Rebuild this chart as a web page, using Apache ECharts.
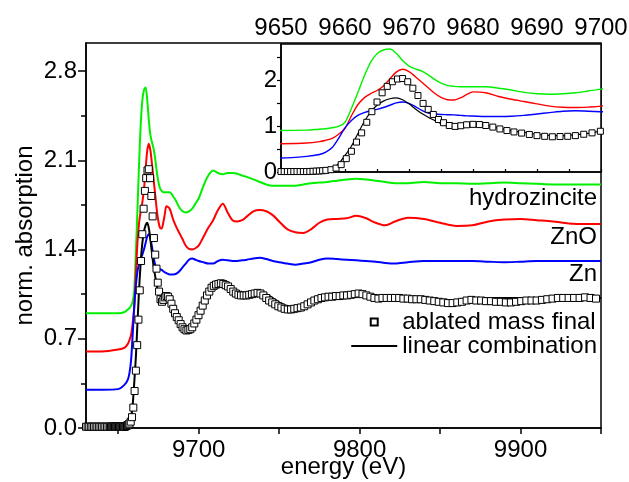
<!DOCTYPE html>
<html>
<head>
<meta charset="utf-8">
<script src="https://cdn.jsdelivr.net/npm/echarts@6/dist/echarts.min.js"></script>
<style>html,body{margin:0;padding:0;background:#fff}#chart{width:629px;height:482px}</style>
</head>
<body>
<div id="chart"></div>
<script>
// ---------- data ----------
const energy = [9630,9640,9650,9654,9656,
  9657,9658,9659,9660,9661,9662,9663,9664,9665,9666,9667,9668,9669,9670,9671,9672,9673,9674,9675,9676,9677,9678,9679,9680,
  9682,9684,9686,9688,9690,9692,9694,9696,9698,9700,
  9703,9706,9709,9712,9715,9718,9721,9724,9727,9730,
  9734,9738,9742,9746,9750,
  9755,9760,9765,9770,9775,9780,
  9786,9792,9798,9804,9810,9816,9822,
  9830,
  9840,9850,9860,9870,9880,9890,9900,9910,9920,9930,9940,9950];

const hydrozincite = [0.90,0.90,0.90,0.91,0.93,
  0.94,0.96,0.99,1.08,1.38,1.72,2.08,2.38,2.57,2.65,2.67,2.58,2.42,2.30,2.24,2.19,2.11,2.01,1.93,1.88,1.86,1.85,1.85,1.85,
  1.85,1.82,1.78,1.73,1.70,1.69,1.70,1.72,1.76,1.80,
  1.90,1.98,2.02,2.00,1.99,2.00,2.00,1.995,1.98,1.97,
  1.95,1.93,1.91,1.90,1.90,
  1.90,1.90,1.91,1.92,1.925,1.93,
  1.94,1.95,1.955,1.95,1.94,1.93,1.92,
  1.92,
  1.93,1.92,1.92,1.915,1.92,1.925,1.92,1.915,1.91,1.91,1.91,1.91];

const znO = [0.60,0.60,0.615,0.63,0.66,
  0.69,0.73,0.82,0.95,1.22,1.46,1.61,1.70,1.77,1.87,2.02,2.17,2.23,2.18,2.07,1.95,1.83,1.71,1.62,1.57,1.565,1.61,1.68,1.74,
  1.72,1.64,1.58,1.53,1.48,1.43,1.405,1.40,1.41,1.43,
  1.50,1.57,1.63,1.71,1.76,1.69,1.63,1.62,1.63,1.66,
  1.70,1.71,1.70,1.67,1.62,
  1.56,1.535,1.53,1.56,1.61,1.635,
  1.64,1.645,1.665,1.645,1.61,1.59,1.62,
  1.65,
  1.64,1.61,1.585,1.59,1.62,1.635,1.64,1.63,1.62,1.605,1.60,1.60];

const zn = [0.30,0.30,0.305,0.34,0.38,
  0.43,0.53,0.73,0.96,1.12,1.23,1.29,1.33,1.36,1.40,1.45,1.50,1.52,1.49,1.42,1.34,1.28,1.26,1.25,1.245,1.24,1.23,1.22,1.215,
  1.205,1.205,1.21,1.23,1.26,1.29,1.32,1.33,1.32,1.31,
  1.30,1.29,1.29,1.31,1.32,1.315,1.31,1.31,1.315,1.32,
  1.33,1.335,1.325,1.31,1.30,
  1.29,1.28,1.29,1.30,1.32,1.33,
  1.325,1.32,1.315,1.31,1.305,1.295,1.29,
  1.30,
  1.31,1.31,1.31,1.31,1.305,1.30,1.305,1.31,1.31,1.31,1.31,1.31];

const linearCombination = [0.01,0.01,0.01,0.02,0.03,
  0.05,0.08,0.18,0.36,0.56,0.83,1.09,1.30,1.45,1.54,1.59,1.61,1.57,1.48,1.37,1.27,1.19,1.12,1.05,0.995,0.975,0.995,1.02,1.035,
  1.015,0.955,0.90,0.86,0.82,0.795,0.79,0.81,0.84,0.89,
  0.97,1.05,1.10,1.13,1.12,1.09,1.065,1.055,1.05,1.05,
  1.06,1.07,1.05,1.02,0.985,
  0.955,0.95,0.955,0.98,1.01,1.03,
  1.03,1.035,1.05,1.045,1.03,1.02,1.025,
  1.03,
  1.02,1.01,1.00,1.01,1.02,1.02,1.02,1.015,1.01,1.015,1.02,1.02];

const ablatedEnergy = [9630,9631,9632,9633,9634,9635,9636,9637,9638,9639,9640,9641,9642,9643,9644,
  9645,9645.5,9646,9646.5,9647,9647.5,9648,9648.5,9649,9649.5,9650,9650.5,9651,9651.5,9652,9652.5,9653,9653.5,9654,9654.5,9655,9655.5,9656,9656.5,9657,
  9657.8,9658.6,9659.4,9660.2,9661.0,9661.8,9662.6,9663.4,9664.2,9665.0,9665.8,9666.6,9667.4,9668.2,9669.0,9669.8,9670.6,9671.4,9672.2,9673.0,9673.8,9674.6,9675.4,
  9676.3,9677.2,9678.1,9679.0,9680.0,9681.0,9682.0,9683.1,9684.2,9685.3,9686.4,9687.6,9688.8,9690.0,9691.2,9692.4,9693.6,9694.8,9696.0,9697.3,9698.6,9699.9,
  9701.2,9702.5,9703.8,9705.2,9706.6,9708.0,9709.4,9710.8,9712.3,9713.8,9715.3,9716.8,9718.3,9719.9,9721.5,9723.1,9724.7,9726.3,9728.0,9729.7,
  9731.4,9733.1,9734.8,9736.6,9738.4,9740.2,9742.0,9743.8,9745.7,9747.6,9749.5,9751.4,9753.4,9755.4,9757.4,9759.4,9761.4,9763.5,9765.6,9767.7,
  9769.8,9771.9,9774.1,9776.3,9778.5,9780.7,9783.0,9785.3,9787.6,9789.9,9792.2,9794.6,9797.0,9799.4,9801.8,9804.2,9806.7,9809.2,9811.7,9814.2,
  9816.8,9819.4,9822.0,9824.6,9827.2,9829.9,9832.6,9835.3,9838.0,9840.8,9843.6,9846.4,9849.2,9852.0,9854.9,9857.8,9860.7,9863.6,9866.5,9869.5,
  9872.5,9875.5,9878.5,9881.6,9884.7,9887.8,9890.9,9894.0,9897.2,9900.4,9903.6,9906.8,9910.0,9913.3,9916.6,9919.9,9923.2,9926.5,9929.9,9933.3,
  9936.7,9940.1,9943.5,9946.9,9950.3];

const ablatedValue = [0.01,0.01,0.01,0.01,0.01,0.01,0.01,0.01,0.01,0.01,0.01,0.01,0.01,0.01,0.01,
  0.01,0.01,0.01,0.01,0.01,0.01,0.01,0.01,0.01,0.01,0.01,0.01,0.01,0.01,0.01,0.01,0.01,0.01,0.01,0.012,0.015,0.02,0.022,0.028,0.035,
  0.05,0.085,0.16,0.29,0.45,0.65,0.85,1.08,1.31,1.52,1.72,1.86,1.96,2.02,2.03,1.96,1.82,1.66,1.49,1.36,1.25,1.14,1.07,
  1.01,0.99,1.005,1.025,1.035,1.03,1.01,0.975,0.935,0.90,0.87,0.845,0.815,0.79,0.775,0.765,0.77,0.775,0.79,0.82,0.85,0.885,
  0.92,0.96,1.0,1.04,1.07,1.10,1.115,1.125,1.13,1.135,1.13,1.12,1.11,1.09,1.07,1.055,1.045,1.04,1.04,1.04,
  1.045,1.05,1.055,1.06,1.055,1.04,1.02,1.0,0.985,0.97,0.955,0.945,0.935,0.93,0.93,0.935,0.94,0.945,0.955,0.97,
  0.985,1.0,1.01,1.02,1.025,1.03,1.03,1.035,1.035,1.04,1.04,1.045,1.05,1.055,1.05,1.04,1.03,1.02,1.015,1.02,
  1.02,1.02,1.02,1.02,1.015,1.015,1.01,1.01,1.01,1.005,1.0,0.995,0.99,0.985,0.98,0.98,0.985,0.99,1.0,1.005,
  1.0,1.0,0.995,0.995,0.99,0.99,0.985,0.985,0.99,0.995,1.0,1.0,1.0,1.005,1.01,1.015,1.02,1.02,1.02,1.02,
  1.02,1.025,1.02,1.015,1.02];

// tick / label positions
const mainXTicks = [9650,9700,9750,9800,9850,9900,9950];
const mainXLabels = [9700,9800,9900];
const mainYLabels = [0,0.7,1.4,2.1,2.8];
const mainYMinorTicks = [0.35,1.05,1.75,2.45];
const insetYTicks = [0,0.5,1,1.5,2,2.5];
const insetYLabels = [0,1,2];
const curveLabels = ['hydrozincite','ZnO','Zn'];

// ---------- chart ----------
const FONT = "'Liberation Sans', Arial, Helvetica, sans-serif";
const pairs = (xs, ys) => xs.map((x, i) => [x, ys[i]]);
const chart = echarts.init(document.getElementById('chart'), null, {renderer: 'canvas'});

function lineSeries(name, values, color, xi, yi, width) {
  return {
    name: name, type: 'line', xAxisIndex: xi, yAxisIndex: yi,
    data: pairs(energy, values), showSymbol: false, symbol: 'none', smooth: 0.3,
    lineStyle: {color: color, width: width}, itemStyle: {color: color},
    z: 3, silent: true
  };
}
function squareSeries(xi, yi, size) {
  return {
    name: 'ablated mass final', type: 'scatter', xAxisIndex: xi, yAxisIndex: yi,
    data: pairs(ablatedEnergy, ablatedValue), symbol: 'rect', symbolSize: size,
    itemStyle: {color: '#fff', borderColor: '#000', borderWidth: 1, opacity: 1},
    z: 3, silent: true
  };
}
const axisLineStyle = {show: true, lineStyle: {color: '#000', width: 1.5}};
const labelStyle = {fontSize: 24, color: '#000', fontFamily: FONT};
const plain = v => String(v);

const option = {
  animation: false,
  backgroundColor: '#fff',
  textStyle: {fontFamily: FONT},
  grid: [
    {left: 86, right: 28, top: 43, bottom: 54, outerBoundsMode: 'none', containLabel: false,
     show: true, borderColor: '#000', borderWidth: 1.5, backgroundColor: 'transparent'},
    {left: 281, right: 28, top: 44, bottom: 310, outerBoundsMode: 'none', containLabel: false,
     show: true, borderColor: '#000', borderWidth: 1.5, backgroundColor: '#fff'}
  ],
  xAxis: [
    {type: 'value', gridIndex: 0, min: 9630, max: 9950, position: 'bottom',
     name: 'energy (eV)', nameLocation: 'middle', nameGap: 27, nameMoveOverlap: false,
     nameTextStyle: {fontSize: 24, color: '#000', fontFamily: FONT},
     axisLine: axisLineStyle,
     axisTick: {show: true, customValues: mainXTicks, length: 6, lineStyle: {color: '#000', width: 1.5}},
     axisLabel: Object.assign({customValues: mainXLabels, margin: 10, formatter: plain}, labelStyle),
     splitLine: {show: false}},
    {type: 'value', gridIndex: 1, min: 9650, max: 9700, interval: 10, position: 'top',
     axisLine: axisLineStyle,
     axisTick: {show: true, length: 3, lineStyle: {color: '#000', width: 1.2}},
     minorTick: {show: true, splitNumber: 2, length: 3, lineStyle: {color: '#000', width: 1.2}},
     axisLabel: Object.assign({margin: 4, showMinLabel: true, showMaxLabel: true, formatter: plain}, labelStyle),
     splitLine: {show: false}, minorSplitLine: {show: false}}
  ],
  yAxis: [
    {type: 'value', gridIndex: 0, min: 0, max: 3.02, position: 'left',
     name: 'norm. absorption', nameLocation: 'middle', nameGap: 49, nameMoveOverlap: false,
     nameTextStyle: {fontSize: 24, color: '#000', fontFamily: FONT},
     axisLine: axisLineStyle,
     axisTick: {show: true, customValues: mainYLabels, length: 8, lineStyle: {color: '#000', width: 1.5}},
     axisLabel: Object.assign({customValues: mainYLabels, margin: 9, formatter: v => Number(v).toFixed(1)}, labelStyle),
     splitLine: {show: false}},
    {type: 'value', gridIndex: 0, min: 0, max: 3.02, position: 'left', offset: 0,
     axisLine: {show: false},
     axisTick: {show: true, customValues: mainYMinorTicks, length: 5, lineStyle: {color: '#000', width: 1.5}},
     axisLabel: {show: false}, splitLine: {show: false}},
    {type: 'value', gridIndex: 1, min: 0, max: 2.78, position: 'left',
     axisLine: axisLineStyle,
     axisTick: {show: true, customValues: insetYTicks, length: 4, lineStyle: {color: '#000', width: 1.2}},
     axisLabel: Object.assign({customValues: insetYLabels, margin: 4, formatter: plain}, labelStyle),
     splitLine: {show: false}}
  ],
  legend: {
    orient: 'vertical', right: 32, top: 310, itemWidth: 46, itemHeight: 7, itemGap: 0, padding: 0, align: 'left',
    textStyle: {fontSize: 24, color: '#000', fontFamily: FONT},
    data: [
      {name: 'ablated mass final', icon: 'path://M0 0L7 0L7 7L0 7Z'},
      {name: 'linear combination', icon: 'path://M0 0L46 0L46 1.8L0 1.8Z', itemStyle: {color: '#000', borderWidth: 0}}
    ],
    selectedMode: false
  },
  graphic: [
    {type: 'text', right: 32, top: 186, style: {text: curveLabels[0], fontSize: 24, fontFamily: FONT, fill: '#000'}},
    {type: 'text', right: 32, top: 225, style: {text: curveLabels[1], fontSize: 24, fontFamily: FONT, fill: '#000'}},
    {type: 'text', right: 32, top: 262, style: {text: curveLabels[2], fontSize: 24, fontFamily: FONT, fill: '#000'}}
  ],
  series: [
    lineSeries('hydrozincite', hydrozincite, '#00f000', 0, 0, 2),
    lineSeries('ZnO', znO, '#ff0000', 0, 0, 2),
    lineSeries('Zn', zn, '#0000ff', 0, 0, 2),
    squareSeries(0, 0, 7),
    lineSeries('linear combination', linearCombination, '#000000', 0, 0, 2),
    lineSeries('hydrozincite', hydrozincite, '#00f000', 1, 2, 1.4),
    lineSeries('ZnO', znO, '#ff0000', 1, 2, 1.4),
    lineSeries('Zn', zn, '#0000ff', 1, 2, 1.4),
    squareSeries(1, 2, 6),
    lineSeries('linear combination', linearCombination, '#000000', 1, 2, 1.2)
  ]
};
chart.setOption(option);
</script>
</body>
</html>
